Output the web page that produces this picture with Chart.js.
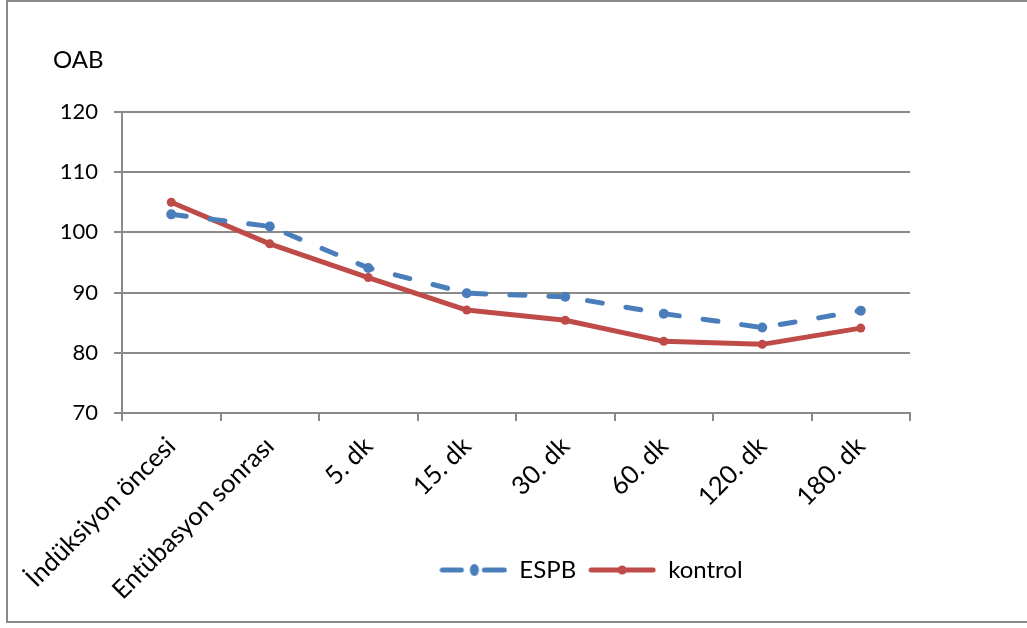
<!DOCTYPE html>
<html>
<head>
<meta charset="utf-8">
<script src="https://cdn.jsdelivr.net/npm/chart.js@4/dist/chart.umd.min.js"></script>
<style>
  html, body { margin: 0; padding: 0; background: #fff; }
  #wrap { width: 1027px; height: 628px; position: relative; }
</style>
</head>
<body>
<div id="wrap"><canvas id="c" width="1027" height="628"></canvas></div>
<script>
// Time points of the measurement
const categories = ['İndüksiyon öncesi', 'Entübasyon sonrası', '5. dk', '15. dk', '30. dk', '60. dk', '120. dk', '180. dk'];
// Mean arterial pressure (OAB) per group
const espbValues = [103.0, 101.0, 94.1, 89.9, 89.3, 86.5, 84.2, 87.0];
const kontrolValues = [105.0, 98.1, 92.5, 87.1, 85.4, 81.9, 81.4, 84.1];
// Y axis range and step
const yTicks = [70, 80, 90, 100, 110, 120];

const BLUE = '#4A7EBB';
const RED = '#BE4B48';
const GRID = '#8a8a8a';
const FONT = 'Lato, "Open Sans", sans-serif';

// Legend swatches: a short line with a marker in the middle
function swatch(color, dashed) {
  const cv = document.createElement('canvas');
  cv.width = 68; cv.height = 14;
  const g = cv.getContext('2d');
  g.strokeStyle = color; g.fillStyle = color;
  g.lineWidth = 5; g.lineCap = 'round';
  if (dashed) {
    g.beginPath(); g.moveTo(3, 7); g.lineTo(22, 7); g.stroke();
    g.beginPath(); g.moveTo(45, 7); g.lineTo(65, 7); g.stroke();
    g.beginPath(); g.ellipse(35, 7, 4.5, 6, 0, 0, Math.PI * 2); g.fill();
  } else {
    g.beginPath(); g.moveTo(3, 7); g.lineTo(65, 7); g.stroke();
    g.beginPath(); g.arc(34, 7, 4.5, 0, Math.PI * 2); g.fill();
  }
  return cv;
}
const swatches = [swatch(BLUE, true), swatch(RED, false)];

// Frame around the whole figure and the axis caption
const framePlugin = {
  id: 'frame',
  beforeDraw(chart) {
    const ctx = chart.ctx;
    ctx.save();
    ctx.fillStyle = '#fff';
    ctx.fillRect(0, 0, chart.width, chart.height);
    ctx.strokeStyle = GRID;
    ctx.lineWidth = 2;
    ctx.strokeRect(7, 1, chart.width + 10, 621);
    ctx.restore();
  },
  afterDraw(chart) {
    const ctx = chart.ctx;
    ctx.save();
    ctx.fillStyle = '#000';
    ctx.font = '24px ' + FONT;
    ctx.textAlign = 'left';
    ctx.textBaseline = 'middle';
    ctx.fillText('OAB', 53, 60);
    ctx.restore();
  }
};

// The legend sits inside the space of the rotated category labels,
// so it reserves no height of its own and is placed after layout.
const LEGEND_TOP = 546;
const legendPlace = {
  id: 'legendPlace',
  beforeLayout(chart) {
    const lg = chart.legend;
    if (lg && !lg._floating) {
      const fit = lg.fit.bind(lg);
      lg.fit = function () { fit(); this._fullHeight = this.height; this.height = 0; };
      lg._floating = true;
    }
  },
  afterLayout(chart) {
    const lg = chart.legend;
    if (!lg) return;
    lg.left = 172; lg.right = 1010;
    lg.top = LEGEND_TOP; lg.bottom = LEGEND_TOP + (lg._fullHeight || 50);
    lg.width = lg.right - lg.left;
    lg.height = lg.bottom - lg.top;
  }
};

new Chart(document.getElementById('c'), {
  type: 'line',
  data: {
    labels: categories,
    datasets: [
      {
        label: 'ESPB',
        data: espbValues,
        borderColor: BLUE,
        backgroundColor: BLUE,
        borderWidth: 5,
        borderDash: [15, 24],
        borderCapStyle: 'round',
        borderJoinStyle: 'round',
        pointRadius: 5,
        pointBorderWidth: 0,
        pointBackgroundColor: BLUE,
        tension: 0
      },
      {
        label: 'kontrol',
        data: kontrolValues,
        borderColor: RED,
        backgroundColor: RED,
        borderWidth: 5,
        borderCapStyle: 'round',
        borderJoinStyle: 'round',
        pointRadius: 4.5,
        pointBorderWidth: 0,
        pointBackgroundColor: RED,
        tension: 0
      }
    ]
  },
  options: {
    responsive: false,
    animation: false,
    devicePixelRatio: 1,
    layout: { padding: { top: 112, right: 117, bottom: 10, left: 0 } },
    plugins: {
      tooltip: { enabled: false },
      legend: {
        position: 'bottom',
        labels: {
          usePointStyle: true,
          pointStyleWidth: 68,
          boxHeight: 14,
          padding: 12,
          color: '#000',
          font: { family: FONT, size: 24 },
          generateLabels(chart) {
            const items = Chart.defaults.plugins.legend.labels.generateLabels(chart);
            items.forEach((it, i) => { it.pointStyle = swatches[i]; });
            return items;
          }
        }
      }
    },
    scales: {
      x: {
        offset: true,
        grid: { drawOnChartArea: false, drawTicks: true, tickLength: 8, offset: true, color: GRID, lineWidth: 2 },
        border: { display: true, color: GRID, width: 2 },
        ticks: {
          color: '#000',
          font: { family: FONT, size: 25.5 },
          minRotation: 45, maxRotation: 45,
          padding: 10,
          autoSkip: false
        },
        afterFit(scale) { scale.height = 205; }
      },
      y: {
        min: yTicks[0],
        max: yTicks[yTicks.length - 1],
        afterBuildTicks(scale) { scale.ticks = yTicks.map(v => ({ value: v })); },
        grid: { color: GRID, lineWidth: 2, tickLength: 8 },
        border: { display: true, color: GRID, width: 2 },
        ticks: {
          color: '#000',
          font: { family: FONT, size: 22 },
          padding: 16
        },
        afterFit(scale) { scale.width = 122; }
      }
    }
  },
  plugins: [framePlugin, legendPlace]
});
</script>
</body>
</html>
